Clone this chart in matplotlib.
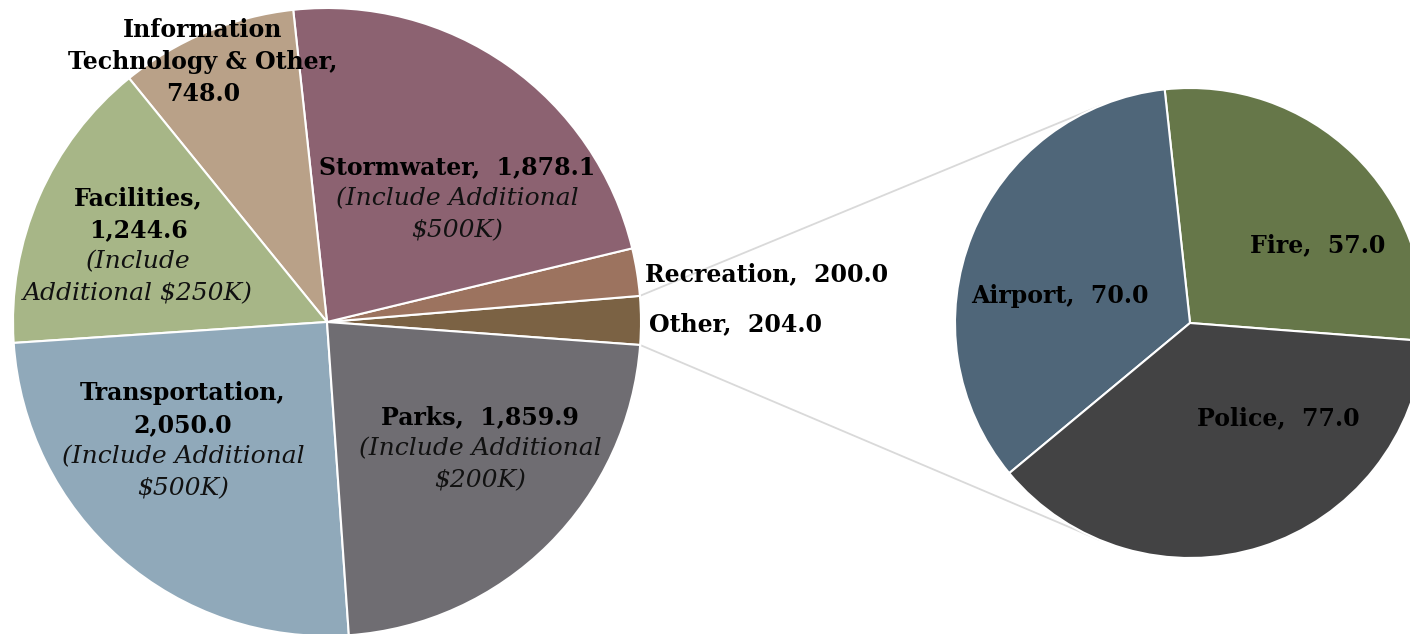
import numpy as np
import matplotlib
matplotlib.use("Agg")
import matplotlib.pyplot as plt

# ---------------------------
# DATA
# ---------------------------
# main pie, counter-clockwise starting at the "Other" wedge on the right
main_names = ["Other", "Recreation", "Stormwater", "Information\nTechnology & Other",
              "Facilities", "Transportation", "Parks"]
main_values = [204.0, 200.0, 1878.1, 748.0, 1244.6, 2050.0, 1859.9]
main_notes = [None, None, "(Include Additional\n\\$500K)", None,
              "(Include\nAdditional \\$250K)", "(Include Additional\n\\$500K)",
              "(Include Additional\n\\$200K)"]

# breakdown of "Other"
sub_names = ["Fire", "Airport", "Police"]
sub_values = [57.0, 70.0, 77.0]

main_colors = ["#7B6244", "#9C735F", "#8C6271", "#B9A188", "#A7B687", "#90A9BA", "#6F6D72"]
sub_colors = ["#667749", "#4F6679", "#434344"]

# ---------------------------
# LAYOUT (pixel units, y measured from top)
# ---------------------------
W, H = 1410, 634
main_center = (327, 322)
main_radius = 314
main_start = -4.2
sub_center = (1190, 323)
sub_radius = 235
sub_start = -4.4

# label anchor per wedge: (x, y of first line, horizontal alignment, text break)
main_label_pos = {
    "Other": (649, 324, "left", "one"),
    "Recreation": (645, 274, "left", "one"),
    "Stormwater": (457, 167, "center", "one"),
    "Information\nTechnology & Other": (203, 30, "center", "split"),
    "Facilities": (138, 198, "center", "split"),
    "Transportation": (183, 393, "center", "split"),
    "Parks": (480, 417, "center", "one"),
}
sub_label_pos = {
    "Fire": (1318, 245),
    "Airport": (1060, 296),
    "Police": (1278, 418),
}

line_h = 32
plt.rcParams["font.family"] = ["DejaVu Serif"]
fs_bold = 17
fs_ital = 18


def fy(y):
    return H - y


fig = plt.figure(figsize=(W / 100, H / 100), dpi=100)
ax = fig.add_axes([0, 0, 1, 1])

wedge_style = dict(edgecolor="white", linewidth=1.5)
ax.pie(main_values, colors=main_colors, startangle=main_start, counterclock=True,
       center=(main_center[0], fy(main_center[1])), radius=main_radius,
       wedgeprops=wedge_style)
ax.pie(sub_values, colors=sub_colors, startangle=sub_start, counterclock=True,
       center=(sub_center[0], fy(sub_center[1])), radius=sub_radius,
       wedgeprops=wedge_style)

ax.set_xlim(0, W)
ax.set_ylim(0, H)
ax.set_aspect("equal")
ax.axis("off")

# connector lines: from the edges of the "Other" wedge, tangent to the breakdown pie
other_span = main_values[0] / sum(main_values) * 360
cx, cy = sub_center[0], fy(sub_center[1])
for ang, sign in [(main_start + other_span, -1), (main_start, 1)]:
    a = np.radians(ang)
    px = main_center[0] + main_radius * np.cos(a)
    py = fy(main_center[1]) + main_radius * np.sin(a)
    d = np.hypot(px - cx, py - cy)
    phi = np.arctan2(py - cy, px - cx)
    alpha = np.arccos(sub_radius / d)
    t = phi + sign * alpha
    tx, ty = cx + sub_radius * np.cos(t), cy + sub_radius * np.sin(t)
    ax.plot([px, tx], [py, ty], color="#D9D9D9", lw=1.3, zorder=0)

# main pie labels
for name, val, note in zip(main_names, main_values, main_notes):
    x, y, ha, mode = main_label_pos[name]
    if mode == "one":
        bold_lines = [f"{name},  {val:,.1f}"]
    else:
        bold_lines = (name + ",").split("\n") + [f"{val:,.1f}"]
    for i, s in enumerate(bold_lines):
        ax.text(x, fy(y + i * line_h), s, ha=ha, va="center", fontsize=fs_bold,
                fontweight="bold", color="black")
    if note:
        for j, s in enumerate(note.split("\n")):
            ax.text(x, fy(y + (len(bold_lines) + j) * line_h), s, ha=ha, va="center",
                    fontsize=fs_ital, fontstyle="italic", color="#111111")

# breakdown labels
for name, val in zip(sub_names, sub_values):
    x, y = sub_label_pos[name]
    ax.text(x, fy(y), f"{name},  {val:.1f}", ha="center", va="center", fontsize=fs_bold,
            fontweight="bold", color="black")

fig.savefig("out.png", dpi=100)
